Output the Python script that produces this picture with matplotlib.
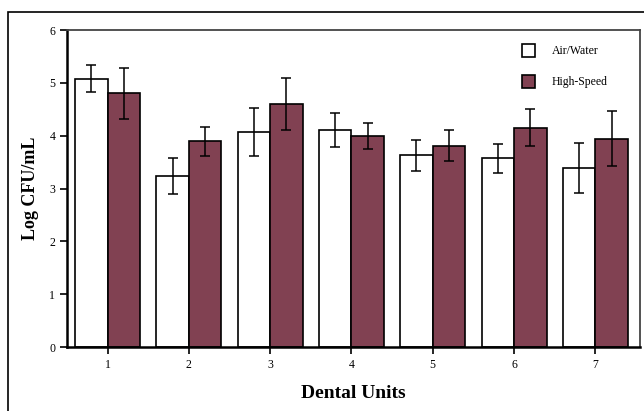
import numpy as np
import matplotlib
matplotlib.use("Agg")
import matplotlib.pyplot as plt
from matplotlib.patches import Rectangle

units = [1, 2, 3, 4, 5, 6, 7]
air_water = [5.08, 3.23, 4.07, 4.10, 3.63, 3.57, 3.39]
air_water_err = [0.25, 0.34, 0.45, 0.32, 0.29, 0.27, 0.48]
high_speed = [4.80, 3.89, 4.60, 3.99, 3.81, 4.15, 3.94]
high_speed_err = [0.49, 0.28, 0.50, 0.25, 0.29, 0.35, 0.52]

plt.rcParams['font.family'] = ['Liberation Serif', 'DejaVu Serif']

fig = plt.figure(figsize=(6.44, 4.11), dpi=100)
# outer frame around the whole figure
fig.patches.append(Rectangle((8 / 644, -0.05), 1.0, 1 - 12 / 411 + 0.05,
                             transform=fig.transFigure, fill=False,
                             edgecolor='black', linewidth=1.2))

ax = fig.add_axes([67 / 644, 1 - 347 / 411, (640 - 67) / 644, (347 - 30) / 411])

x = np.array(units)
w = 0.4
maroon = '#814152'
ax.bar(x - w / 2, air_water, w, color='white', edgecolor='black', linewidth=1.2,
       label='Air/Water', zorder=2)
ax.bar(x + w / 2, high_speed, w, color=maroon, edgecolor='black', linewidth=1.2,
       label='High-Speed', zorder=2)
ax.errorbar(x - w / 2, air_water, yerr=air_water_err, fmt='none', ecolor='black',
            elinewidth=1.1, capsize=3.5, capthick=1.1, zorder=3)
ax.errorbar(x + w / 2, high_speed, yerr=high_speed_err, fmt='none', ecolor='black',
            elinewidth=1.1, capsize=3.5, capthick=1.1, zorder=3)

ax.set_xlim(0.5, 7.55)
ax.set_ylim(0, 6)
ax.set_xticks(units)
ax.set_yticks(range(0, 7))
ax.tick_params(axis='both', direction='out', length=5, width=1.2, labelsize=8.5)

for s in ['left', 'bottom']:
    ax.spines[s].set_linewidth(1.8)
    ax.spines[s].set_color('black')
for s in ['top', 'right']:
    ax.spines[s].set_linewidth(1.3)
    ax.spines[s].set_color('#444444')

ax.set_xlabel('Dental Units', fontsize=14, fontweight='bold', labelpad=10)
ax.set_ylabel('Log CFU/mL', fontsize=13, fontweight='bold', labelpad=7)

ax.legend(loc='upper right', frameon=False, fontsize=8.5, handlelength=1.1,
          handleheight=1.3, labelspacing=1.5, handletextpad=1.4,
          bbox_to_anchor=(0.962, 0.99))

fig.savefig('out.png', dpi=100)
